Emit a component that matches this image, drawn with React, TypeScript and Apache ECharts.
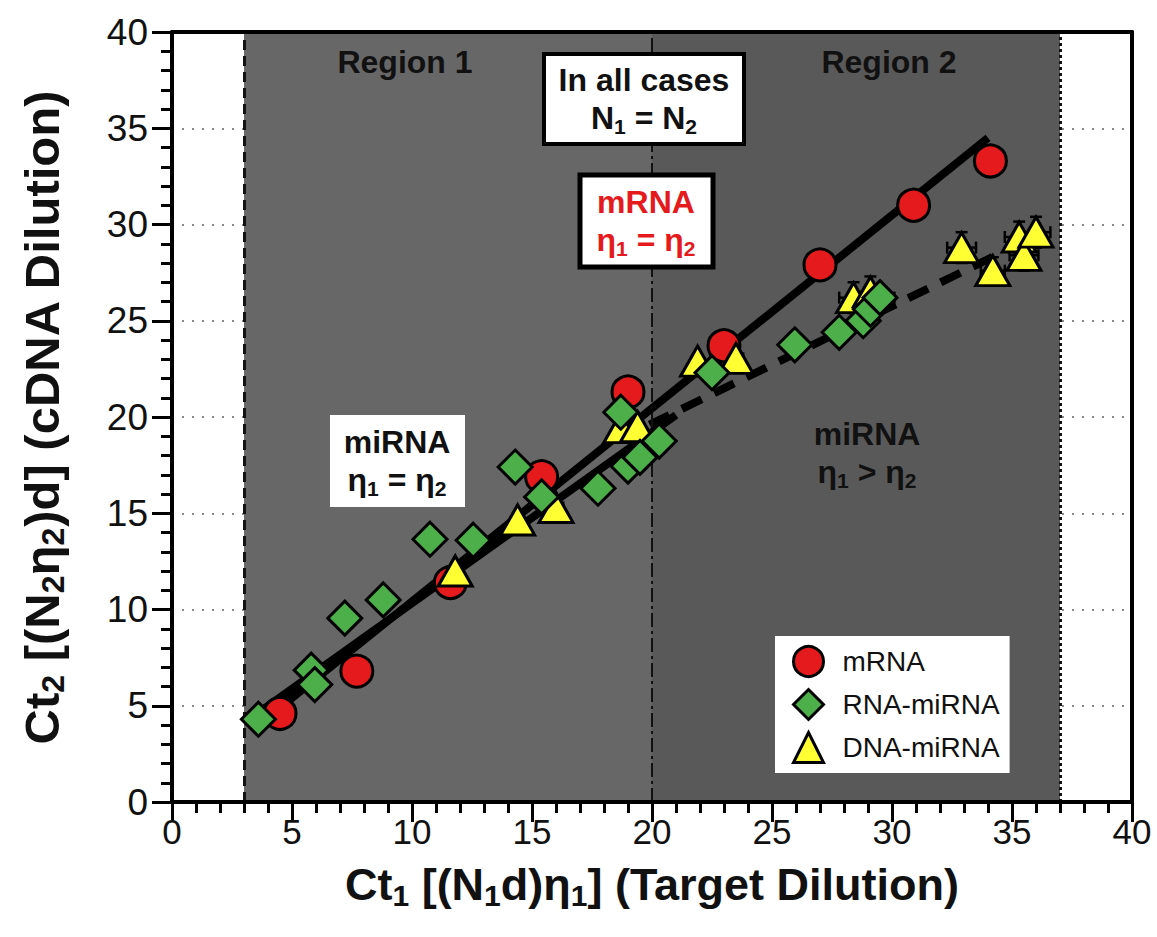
import React, { useEffect, useRef } from "react";
import * as echarts from "echarts";

// ---- data ----
const mrnaX = [4.5, 7.7, 11.6, 15.4, 19.0, 23.0, 27.0, 30.9, 34.1];
const mrnaY = [4.6, 6.8, 11.4, 16.9, 21.3, 23.7, 27.9, 31.0, 33.3];

const rnaMiX = [3.6, 5.8, 5.95, 7.2, 8.8, 10.75, 12.55, 14.3, 15.4, 17.75, 18.7, 19.0, 19.5, 20.3, 22.5, 25.95, 27.8, 28.8, 29.1, 29.5];
const rnaMiY = [4.3, 6.85, 6.1, 9.55, 10.5, 13.65, 13.6, 17.4, 15.85, 16.3, 20.25, 17.45, 17.9, 18.75, 22.3, 23.75, 24.4, 25.0, 25.6, 26.2];
const rnaMiXErr = [0, 0, 0, 0.3, 0, 0, 0, 0, 0, 0, 0.3, 0, 0, 0.3, 0, 0, 0, 0, 0.5, 0.6];
const rnaMiYErr = [0, 0, 0, 0.3, 0, 0, 0, 0, 0, 0, 0.3, 0, 0, 0.3, 0, 0, 0, 0, 0.5, 0.6];

const dnaMiX = [11.8, 14.4, 16.0, 18.7, 19.4, 21.9, 23.5, 28.4, 29.1, 32.9, 34.2, 35.3, 35.5, 36.0];
const dnaMiY = [12.0, 14.65, 15.3, 19.45, 19.5, 22.9, 23.05, 26.2, 26.5, 28.8, 27.6, 29.35, 28.4, 29.6];
const dnaMiXErr = [0.3, 0, 0.3, 0, 0, 0, 0.3, 0.6, 0.6, 0.6, 0.5, 0.6, 0.6, 0.6];
const dnaMiYErr = [0.3, 0, 0.3, 0, 0, 0, 0.3, 0.8, 0.8, 0.8, 0.7, 0.8, 0.8, 0.8];

const mrnaFitX = [4.5, 34.0];
const mrnaFitY = [4.9, 34.5];
const miR1FitX = [3.0, 21.0];
const miR1FitY = [4.1, 20.1];
const miR2FitX = [19.9, 34.5];
const miR2FitY = [19.6, 28.5];

const regionBounds = [3, 20, 37];
const regionNames = ["Region 1", "Region 2"];
const seriesNames = ["mRNA", "RNA-miRNA", "DNA-miRNA"];
const axisMin = 0;
const axisMax = 40;
const axisStep = 5;

const FONT = 'Arial, "Liberation Sans", Helvetica, sans-serif';
const RED = "#e41a1c";
const GREEN = "#4daf4a";
const YELLOW = "#ffff33";

const zip = (xs: number[], ys: number[]) => xs.map((x, i) => [x, ys[i]]);
const zip4 = (xs: number[], ys: number[], ex: number[], ey: number[]) =>
  xs.map((x, i) => [x, ys[i], ex[i], ey[i]]);

// rich text for option-level text (axis names)
const richText = (size: number, color: string) => ({
  b: { fontFamily: FONT, fontWeight: "bold", fontSize: size, lineHeight: size + 6, color },
  s: {
    fontFamily: FONT,
    fontWeight: "bold",
    fontSize: Math.round(size * 0.66),
    lineHeight: Math.round(size * 0.5),
    verticalAlign: "bottom",
    color,
  },
});

// rich text for graphic elements (zrender style uses fill)
const richG = (size: number, color: string) => ({
  b: { fontFamily: FONT, fontWeight: "bold", fontSize: size, lineHeight: size + 6, fill: color },
  s: {
    fontFamily: FONT,
    fontWeight: "bold",
    fontSize: Math.round(size * 0.66),
    lineHeight: Math.round(size * 0.5),
    verticalAlign: "bottom",
    fill: color,
  },
});

function errorBarRender(params: any, api: any) {
  const x = api.value(0);
  const y = api.value(1);
  const ex = api.value(2);
  const ey = api.value(3);
  const style = { stroke: "#000", lineWidth: 2.5 };
  const cap = 6;
  const children: any[] = [];
  if (ex > 0) {
    const l = api.coord([x - ex, y]);
    const r = api.coord([x + ex, y]);
    children.push({ type: "line", shape: { x1: l[0], y1: l[1], x2: r[0], y2: r[1] }, style });
    children.push({ type: "line", shape: { x1: l[0], y1: l[1] - cap, x2: l[0], y2: l[1] + cap }, style });
    children.push({ type: "line", shape: { x1: r[0], y1: r[1] - cap, x2: r[0], y2: r[1] + cap }, style });
  }
  if (ey > 0) {
    const t = api.coord([x, y + ey]);
    const b = api.coord([x, y - ey]);
    children.push({ type: "line", shape: { x1: t[0], y1: t[1], x2: b[0], y2: b[1] }, style });
    children.push({ type: "line", shape: { x1: t[0] - cap, y1: t[1], x2: t[0] + cap, y2: t[1] }, style });
    children.push({ type: "line", shape: { x1: b[0] - cap, y1: b[1], x2: b[0] + cap, y2: b[1] }, style });
  }
  return { type: "group", children };
}

export default function App() {
  const ref = useRef<HTMLDivElement>(null);

  useEffect(() => {
    if (!ref.current) return;
    const chart = echarts.init(ref.current, undefined, { renderer: "svg" });

    const gridLeft = 172;
    const gridTop = 32;
    const gridW = 960;
    const gridH = 770;

    const axisCommon = {
      min: axisMin,
      max: axisMax,
      interval: axisStep,
      type: "value" as const,
    };

    const option: any = {
      animation: false,
      backgroundColor: "#fff",
      grid: { left: gridLeft, top: gridTop, width: gridW, height: gridH },
      xAxis: [
        {
          ...axisCommon,
          position: "bottom",
          z: 5,
          axisLine: { show: true, onZero: false, lineStyle: { color: "#000", width: 4 } },
          axisTick: { show: true, length: 20, lineStyle: { color: "#000", width: 3 } },
          minorTick: { show: true, splitNumber: 5, length: 11, lineStyle: { color: "#000", width: 3 } },
          splitLine: { show: false },
          axisLabel: { fontFamily: FONT, fontSize: 35, color: "#111", margin: 12 },
          name: "{b|Ct}{s|1}{b| [(N}{s|1}{b|d)η}{s|1}{b|] (Target Dilution)}",
          nameLocation: "middle",
          nameGap: 57,
          nameTextStyle: { rich: richText(45, "#111") },
        },
        {
          ...axisCommon,
          position: "top",
          z: 5,
          axisLine: { show: true, onZero: false, lineStyle: { color: "#000", width: 4 } },
          axisTick: { show: false },
          axisLabel: { show: false },
          splitLine: { show: false },
        },
      ],
      yAxis: [
        {
          ...axisCommon,
          position: "left",
          z: 5,
          axisLine: { show: true, onZero: false, lineStyle: { color: "#000", width: 4 } },
          axisTick: { show: true, length: 20, lineStyle: { color: "#000", width: 3 } },
          minorTick: { show: true, splitNumber: 5, length: 11, lineStyle: { color: "#000", width: 3 } },
          splitLine: { show: false },
          axisLabel: { fontFamily: FONT, fontSize: 37, color: "#111", margin: 24 },
          name: "{b|Ct}{s|2}{b| [(N}{s|2}{b|η}{s|2}{b|)d] (cDNA Dilution)}",
          nameLocation: "middle",
          nameRotate: 90,
          nameGap: 103,
          nameTextStyle: { rich: richText(49, "#111") },
        },
        {
          ...axisCommon,
          position: "right",
          z: 0,
          axisLine: { show: true, onZero: false, lineStyle: { color: "#000", width: 4 } },
          axisTick: { show: false },
          axisLabel: { show: false },
          splitLine: { show: true, lineStyle: { color: "#8a8a8a", width: 2, type: [2, 8] } },
        },
      ],
      legend: {
        orient: "vertical",
        left: 775,
        top: 636,
        backgroundColor: "#fff",
        padding: [9, 10, 9, 17],
        itemGap: 10,
        itemWidth: 30,
        itemHeight: 30,
        itemStyle: { borderColor: "#000", borderWidth: 3 },
        textStyle: { fontFamily: FONT, fontSize: 28, color: "#111", padding: [0, 0, 0, 14] },
        data: seriesNames,
      },
      graphic: [
        {
          type: "text",
          x: 405,
          y: 62,
          z: 10,
          style: { text: regionNames[0], font: `bold 32px ${FONT}`, fill: "#111", align: "center", verticalAlign: "middle" },
        },
        {
          type: "text",
          x: 889,
          y: 62,
          z: 10,
          style: { text: regionNames[1], font: `bold 32px ${FONT}`, fill: "#111", align: "center", verticalAlign: "middle" },
        },
        {
          type: "rect",
          z: 10,
          shape: { x: 544, y: 54, width: 200, height: 90 },
          style: { fill: "#fff", stroke: "#000", lineWidth: 4 },
        },
        {
          type: "text",
          x: 644,
          y: 99,
          z: 11,
          style: {
            text: "{b|In all cases}\n{b|N}{s|1}{b| = N}{s|2}",
            rich: richG(32, "#111"),
            align: "center",
            verticalAlign: "middle",
          },
        },
        {
          type: "rect",
          z: 10,
          shape: { x: 580, y: 175, width: 133, height: 92 },
          style: { fill: "#fff", stroke: "#000", lineWidth: 5 },
        },
        {
          type: "text",
          x: 646,
          y: 221,
          z: 11,
          style: {
            text: "{b|mRNA}\n{b|η}{s|1}{b| = η}{s|2}",
            rich: richG(32, RED),
            align: "center",
            verticalAlign: "middle",
          },
        },
        {
          type: "rect",
          z: 10,
          shape: { x: 330, y: 415, width: 135, height: 92 },
          style: { fill: "#fff", stroke: null, lineWidth: 0 },
        },
        {
          type: "text",
          x: 397,
          y: 461,
          z: 11,
          style: {
            text: "{b|miRNA}\n{b|η}{s|1}{b| = η}{s|2}",
            rich: richG(32, "#111"),
            align: "center",
            verticalAlign: "middle",
          },
        },
        {
          type: "text",
          x: 867,
          y: 453,
          z: 11,
          style: {
            text: "{b|miRNA}\n{b|η}{s|1}{b| > η}{s|2}",
            rich: richG(32, "#111"),
            align: "center",
            verticalAlign: "middle",
          },
        },
      ],
      series: [
        {
          name: "regions",
          type: "scatter",
          data: [],
          z: 1,
          silent: true,
          markArea: {
            silent: true,
            data: [
              [{ xAxis: regionBounds[0], itemStyle: { color: "#676767" } }, { xAxis: regionBounds[1] }],
              [{ xAxis: regionBounds[1], itemStyle: { color: "#595959" } }, { xAxis: regionBounds[2] }],
            ],
          },
          markLine: {
            silent: true,
            symbol: ["none", "none"],
            label: { show: false },
            data: [
              { xAxis: regionBounds[0], lineStyle: { color: "#111", width: 3, type: [10, 6] } },
              { xAxis: regionBounds[1], lineStyle: { color: "#111", width: 2, type: [14, 4, 3, 4] } },
              { xAxis: regionBounds[2], lineStyle: { color: "#111", width: 3, type: [3, 3] } },
            ],
          },
        },
        {
          name: "mRNA fit",
          type: "line",
          data: zip(mrnaFitX, mrnaFitY),
          symbol: "none",
          z: 2,
          lineStyle: { color: "#000", width: 8 },
        },
        {
          name: "miRNA fit 1",
          type: "line",
          data: zip(miR1FitX, miR1FitY),
          symbol: "none",
          z: 2,
          lineStyle: { color: "#000", width: 8 },
        },
        {
          name: "miRNA fit 2",
          type: "line",
          data: zip(miR2FitX, miR2FitY),
          symbol: "none",
          z: 2,
          lineStyle: { color: "#000", width: 8, type: [22, 14] },
        },
        {
          name: seriesNames[0],
          type: "scatter",
          data: zip(mrnaX, mrnaY),
          symbol: "circle",
          symbolSize: 32,
          z: 3,
          itemStyle: { color: RED, borderColor: "#000", borderWidth: 3, opacity: 1 },
        },
        {
          name: "DNA err",
          type: "custom",
          renderItem: errorBarRender,
          data: zip4(dnaMiX, dnaMiY, dnaMiXErr, dnaMiYErr),
          encode: { x: 0, y: 1 },
          z: 3,
          silent: true,
        },
        {
          name: seriesNames[2],
          type: "scatter",
          data: zip(dnaMiX, dnaMiY),
          symbol: "triangle",
          symbolSize: [34, 30],
          z: 4,
          itemStyle: { color: YELLOW, borderColor: "#000", borderWidth: 3, opacity: 1 },
        },
        {
          name: "RNA err",
          type: "custom",
          renderItem: errorBarRender,
          data: zip4(rnaMiX, rnaMiY, rnaMiXErr, rnaMiYErr),
          encode: { x: 0, y: 1 },
          z: 4,
          silent: true,
        },
        {
          name: seriesNames[1],
          type: "scatter",
          data: zip(rnaMiX, rnaMiY),
          symbol: "diamond",
          symbolSize: 34,
          z: 5,
          itemStyle: { color: GREEN, borderColor: "#000", borderWidth: 3, opacity: 1 },
        },
      ],
    };

    chart.setOption(option);
    return () => chart.dispose();
  }, []);

  return (
    <div
      ref={ref}
      style={{ position: "absolute", left: 0, top: 0, width: 1157, height: 937 }}
    />
  );
}
